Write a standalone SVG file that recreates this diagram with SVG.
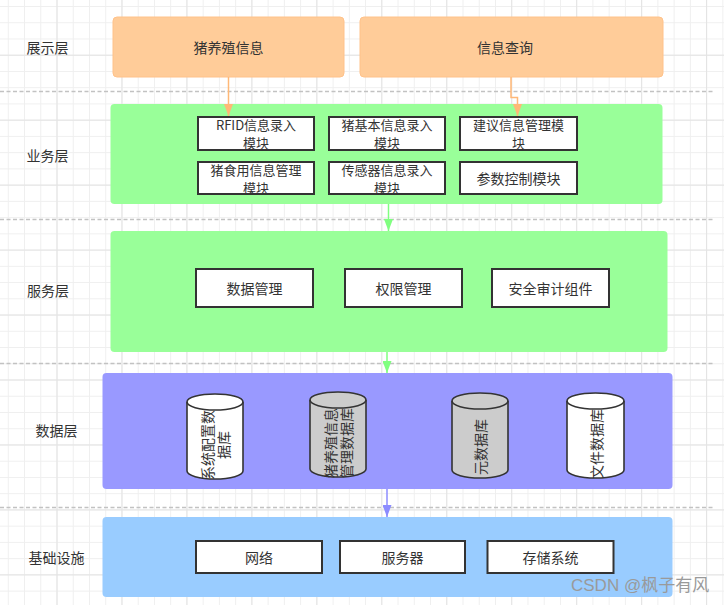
<svg xmlns="http://www.w3.org/2000/svg" width="724" height="605" viewBox="0 0 724 605">
<style>
text{font-family:"Noto Sans CJK SC","Noto Sans",sans-serif;font-size:14px;fill:#333;text-anchor:middle;dominant-baseline:central}
.t2{font-size:13px}
.sep{stroke:#c2c2c2;stroke-width:1.5;stroke-dasharray:4 2.5;fill:none}
.ob{fill:#FFCC99;stroke:#FFC28A;stroke-width:1}
.gb{fill:#99FF99}
.pb{fill:#9999FF}
.bb{fill:#99CCFF}
.ib{fill:#fff;stroke:#333;stroke-width:2}
.cyl{stroke:#333;stroke-width:1.6}
.cw{fill:#fff}
.cg{fill:#CCCCCC}
.wm{font-family:"Liberation Sans","Noto Sans CJK SC",sans-serif;font-size:17px;fill:#9a9a9a;text-anchor:start}
</style>
<defs>
<pattern id="gs" patternUnits="userSpaceOnUse" x="7.8" y="6" width="16.24" height="16.24">
<path d="M0.5 0V16.24M0 0.5H16.24" stroke="#efefef" stroke-width="1" fill="none"/>
</pattern>
<pattern id="gl" patternUnits="userSpaceOnUse" x="56.5" y="54.7" width="64.96" height="64.96">
<path d="M0.5 0V64.96M0 0.5H64.96" stroke="#e3e3e3" stroke-width="1" fill="none"/>
</pattern>
<marker id="ao" markerUnits="userSpaceOnUse" markerWidth="9" markerHeight="12" refX="4.5" refY="12" orient="0" viewBox="0 0 9 12"><path d="M0 0L9 0L4.5 12Z" fill="#FFB877"/></marker>
<marker id="ag" markerUnits="userSpaceOnUse" markerWidth="9" markerHeight="12" refX="4.5" refY="12" orient="0" viewBox="0 0 9 12"><path d="M0 0L9 0L4.5 12Z" fill="#80FF80"/></marker>
<marker id="ap" markerUnits="userSpaceOnUse" markerWidth="9" markerHeight="12" refX="4.5" refY="12" orient="0" viewBox="0 0 9 12"><path d="M0 0L9 0L4.5 12Z" fill="#8C8CFF"/></marker>
</defs>
<rect width="724" height="605" fill="#fff"/>
<rect width="724" height="605" fill="url(#gs)"/>
<rect width="724" height="605" fill="url(#gl)"/>

<g id="separators">
<path class="sep" d="M0 91.5H713M0 219.5H713M0 363.5H713M0 507.5H713"/>
</g>

<g id="layer-labels">
<text x="47.5" y="47">展示层</text>
<text x="47.5" y="155">业务层</text>
<text x="48" y="290">服务层</text>
<text x="56.5" y="430">数据层</text>
<text x="56.5" y="557">基础设施</text>
</g>

<g id="layer-business"><rect class="gb" x="110.5" y="104" width="552" height="100" rx="4"/></g>
<g id="layer-service"><rect class="gb" x="110.5" y="231" width="557" height="121" rx="4"/></g>
<g id="layer-data"><rect class="pb" x="102.5" y="373" width="570" height="116" rx="4"/></g>
<g id="layer-infra"><rect class="bb" x="102.5" y="517" width="570" height="80" rx="4"/></g>

<g id="n-pig-info"><rect class="ob" x="113" y="17" width="231" height="60" rx="4"/><text x="228.5" y="47">猪养殖信息</text></g>
<g id="n-query"><rect class="ob" x="360" y="17" width="303" height="60" rx="4"/><text x="505" y="47">信息查询</text></g>

<g id="n-rfid"><rect class="ib" x="198" y="117" width="116" height="33"/><text class="t2" x="256" y="124.5">RFID信息录入</text><text class="t2" x="256" y="142.5">模块</text></g>
<g id="n-pig-basic"><rect class="ib" x="329" y="117" width="116" height="33"/><text class="t2" x="387" y="124.5">猪基本信息录入</text><text class="t2" x="387" y="142.5">模块</text></g>
<g id="n-advice"><rect class="ib" x="460" y="117" width="117" height="33"/><text class="t2" x="518.5" y="124.5">建议信息管理模</text><text class="t2" x="518.5" y="142.5">块</text></g>
<g id="n-feed"><rect class="ib" x="198" y="162" width="116" height="32"/><text class="t2" x="256" y="169">猪食用信息管理</text><text class="t2" x="256" y="187">模块</text></g>
<g id="n-sensor"><rect class="ib" x="329" y="162" width="116" height="32"/><text class="t2" x="387" y="169">传感器信息录入</text><text class="t2" x="387" y="187">模块</text></g>
<g id="n-param"><rect class="ib" x="460" y="162" width="117" height="32"/><text x="518.5" y="178">参数控制模块</text></g>

<g id="n-datamgmt"><rect class="ib" x="196" y="269" width="117" height="38"/><text x="254.5" y="288">数据管理</text></g>
<g id="n-perm"><rect class="ib" x="345" y="269" width="117" height="38"/><text x="403.5" y="288">权限管理</text></g>
<g id="n-audit"><rect class="ib" x="492" y="269" width="117" height="38"/><text x="550.5" y="288">安全审计组件</text></g>

<g id="n-db-config">
<path class="cyl cw" d="M187 402L187 471A28 8 0 0 0 243 471L243 402A28 8 0 0 0 187 402Z"/>
<path class="cyl" fill="none" d="M187 402A28 8 0 0 0 243 402"/>
<g transform="translate(215 445) rotate(-90)"><text x="0" y="-8">系统配置数</text><text x="0" y="8">据库</text></g>
</g>
<g id="n-db-pig">
<path class="cyl cg" d="M310 400L310 469A28 8 0 0 0 366 469L366 400A28 8 0 0 0 310 400Z"/>
<path class="cyl" fill="none" d="M310 400A28 8 0 0 0 366 400"/>
<g transform="translate(338 443) rotate(-90)"><text x="0" y="-8">猪养殖信息</text><text x="0" y="8">管理数据库</text></g>
</g>
<g id="n-db-meta">
<path class="cyl cg" d="M452 401L452 470A28 8 0 0 0 508 470L508 401A28 8 0 0 0 452 401Z"/>
<path class="cyl" fill="none" d="M452 401A28 8 0 0 0 508 401"/>
<g transform="translate(480 447) rotate(-90)"><text x="0" y="0">元数据库</text></g>
</g>
<g id="n-db-file">
<path class="cyl cw" d="M567 401L567 470A28.5 8 0 0 0 624 470L624 401A28.5 8 0 0 0 567 401Z"/>
<path class="cyl" fill="none" d="M567 401A28.5 8 0 0 0 624 401"/>
<g transform="translate(595.5 444) rotate(-90)"><text x="0" y="0">文件数据库</text></g>
</g>

<g id="n-network"><rect class="ib" x="196" y="541" width="126" height="32"/><text x="259" y="557">网络</text></g>
<g id="n-server"><rect class="ib" x="340" y="541" width="125" height="32"/><text x="402.5" y="557">服务器</text></g>
<g id="n-storage"><rect class="ib" x="487.5" y="541" width="126" height="32"/><text x="550.5" y="557">存储系统</text></g>

<g id="connectors" fill="none" stroke-width="1.5">
<path d="M228.5 77V116" stroke="#FFB877" marker-end="url(#ao)"/>
<path d="M511 77V97.5H517.5V116" stroke="#FFB877" marker-end="url(#ao)"/>
<path d="M388.5 204V231" stroke="#80FF80" marker-end="url(#ag)"/>
<path d="M387 352V373" stroke="#80FF80" marker-end="url(#ag)"/>
<path d="M387 489V517" stroke="#8C8CFF" marker-end="url(#ap)"/>
</g>

<text class="wm" x="571" y="585">CSDN @枫子有风</text>
</svg>
